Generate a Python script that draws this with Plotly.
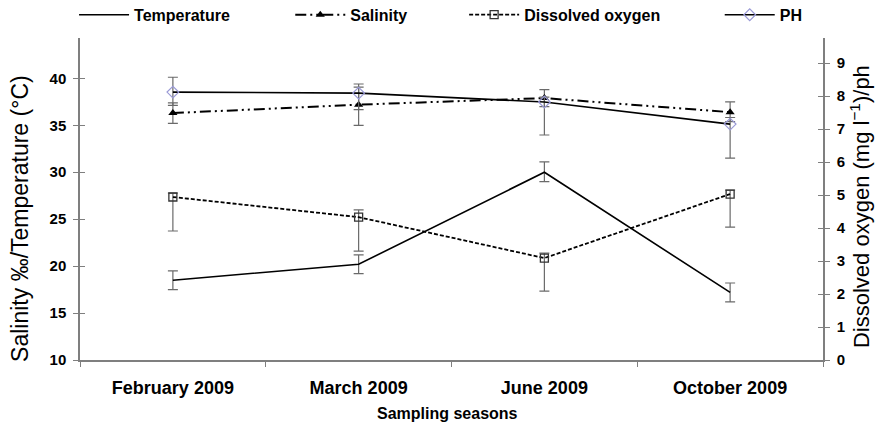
import plotly.graph_objects as go

categories = ["February 2009", "March 2009", "June 2009", "October 2009"]

temperature = [18.5, 20.2, 30.0, 17.2]
temperature_err_plus = [1.0, 1.0, 1.1, 1.0]
temperature_err_minus = [1.0, 1.0, 1.0, 1.0]

salinity = [36.3, 37.2, 37.9, 36.4]
salinity_err_plus = [1.1, 2.2, 0.9, 1.1]
salinity_err_minus = [1.1, 2.2, 0.9, 1.0]

dissolved_oxygen = [4.94, 4.33, 3.09, 5.03]
do_err_plus = [0.12, 0.22, 0.15, 0.12]
do_err_minus = [1.03, 1.03, 1.0, 1.0]

ph = [8.12, 8.09, 7.82, 7.15]
ph_err_plus = [0.45, 0.18, 0.15, 0.2]
ph_err_minus = [0.4, 0.5, 1.0, 1.03]

left_ticks = [10, 15, 20, 25, 30, 35, 40]
right_ticks = [0, 1, 2, 3, 4, 5, 6, 7, 8, 9]

FONT = "Liberation Sans, Arial, sans-serif"
AXIS_GRAY = "#7f7f7f"
ERR_GRAY = "#6a6a6a"


def err(plus, minus):
    return dict(type="data", array=plus, arrayminus=minus, symmetric=False,
                color=ERR_GRAY, thickness=1.2, width=5)


fig = go.Figure()

fig.add_trace(go.Scatter(
    x=categories, y=temperature, name="Temperature", mode="lines",
    line=dict(color="black", width=1.6),
    error_y=err(temperature_err_plus, temperature_err_minus),
    legend="legend", yaxis="y"))

fig.add_trace(go.Scatter(
    x=categories, y=salinity, name="Salinity", mode="lines+markers",
    line=dict(color="black", width=2, dash="11px,4px,2px,4px,2px,4px"),
    marker=dict(symbol="triangle-up", size=8, color="black"),
    error_y=err(salinity_err_plus, salinity_err_minus),
    legend="legend2", yaxis="y"))

fig.add_trace(go.Scatter(
    x=categories, y=dissolved_oxygen, name="Dissolved oxygen", mode="lines+markers",
    line=dict(color="black", width=1.8, dash="4px,2px"),
    marker=dict(symbol="square-open", size=8, color="#333333", line=dict(width=1.3)),
    error_y=err(do_err_plus, do_err_minus),
    legend="legend3", yaxis="y2"))

fig.add_trace(go.Scatter(
    x=categories, y=ph, name="PH", mode="lines+markers",
    line=dict(color="black", width=1.6),
    marker=dict(symbol="diamond-open", size=9, color="#9a9ad6", line=dict(width=1.2)),
    error_y=err(ph_err_plus, ph_err_minus),
    legend="legend4", yaxis="y2"))

# invisible helper traces for the inner half of the crossing tick marks
fig.add_trace(go.Scatter(x=[categories[0]], y=[None], yaxis="y3", showlegend=False,
                         hoverinfo="skip", mode="lines"))
fig.add_trace(go.Scatter(x=[categories[0]], y=[None], yaxis="y4", showlegend=False,
                         hoverinfo="skip", mode="lines"))

legend_common = dict(orientation="h", y=1.072, yanchor="middle", xanchor="left",
                     font=dict(family=FONT, size=16, color="black", weight="bold"),
                     itemwidth=50, bgcolor="rgba(0,0,0,0)", borderwidth=0)

tickfont = dict(family=FONT, size=15, color="black", weight="bold")

fig.update_layout(
    width=877, height=427, autosize=False,
    margin=dict(l=80, r=54, t=38, b=67, autoexpand=False),
    paper_bgcolor="white", plot_bgcolor="white",
    font=dict(family=FONT, color="black"),
    legend=dict(x=-0.008, **legend_common),
    legend2=dict(x=0.283, **legend_common),
    legend3=dict(x=0.517, **legend_common),
    legend4=dict(x=0.861, **legend_common),
    xaxis=dict(type="category", range=[-0.5, 3.5], tickson="boundaries",
               ticks="outside", ticklen=5, tickcolor=AXIS_GRAY, tickwidth=1.2,
               showline=True, linecolor=AXIS_GRAY, linewidth=1.5,
               showgrid=False, zeroline=False, ticklabelstandoff=11,
               tickfont=dict(family=FONT, size=18, color="black", weight="bold")),
    yaxis=dict(range=[10, 44.3], tickvals=left_ticks, ticks="outside", ticklen=5,
               tickcolor=AXIS_GRAY, tickwidth=1.2, showline=True, linecolor=AXIS_GRAY,
               linewidth=1.5, showgrid=False, zeroline=False, tickfont=tickfont,
               ticklabelstandoff=4),
    yaxis2=dict(range=[0, 9.76], tickvals=right_ticks, overlaying="y", side="right",
                anchor="x", ticks="outside", ticklen=5, tickcolor=AXIS_GRAY, tickwidth=1.2,
                showline=True, linecolor=AXIS_GRAY, linewidth=1.5, showgrid=False,
                zeroline=False, tickfont=tickfont, ticklabelstandoff=4),
    yaxis3=dict(range=[10, 44.3], tickvals=left_ticks, overlaying="y", side="left",
                anchor="x", ticks="inside", ticklen=5, tickcolor=AXIS_GRAY, tickwidth=1.2,
                showticklabels=False, showline=False, showgrid=False, zeroline=False),
    yaxis4=dict(range=[0, 9.76], tickvals=right_ticks, overlaying="y", side="right",
                anchor="x", ticks="inside", ticklen=5, tickcolor=AXIS_GRAY, tickwidth=1.2,
                showticklabels=False, showline=False, showgrid=False, zeroline=False),
    annotations=[
        dict(text="Salinity ‰/Temperature (°C)", textangle=-90, x=-0.08, y=0.44,
             xref="paper", yref="paper", xanchor="center", yanchor="middle",
             showarrow=False, font=dict(family=FONT, size=23, color="black")),
        dict(text="Dissolved oxygen (mg l<sup>−1</sup>)/ph", textangle=-90, x=1.0498, y=0.475,
             xref="paper", yref="paper", xanchor="center", yanchor="middle",
             showarrow=False, font=dict(family=FONT, size=22, color="black")),
        dict(text="Sampling seasons", x=0.494, y=-0.165, xref="paper", yref="paper",
             xanchor="center", yanchor="middle", showarrow=False,
             font=dict(family=FONT, size=16, color="black", weight="bold")),
    ],
)

fig.write_html("out.html")
